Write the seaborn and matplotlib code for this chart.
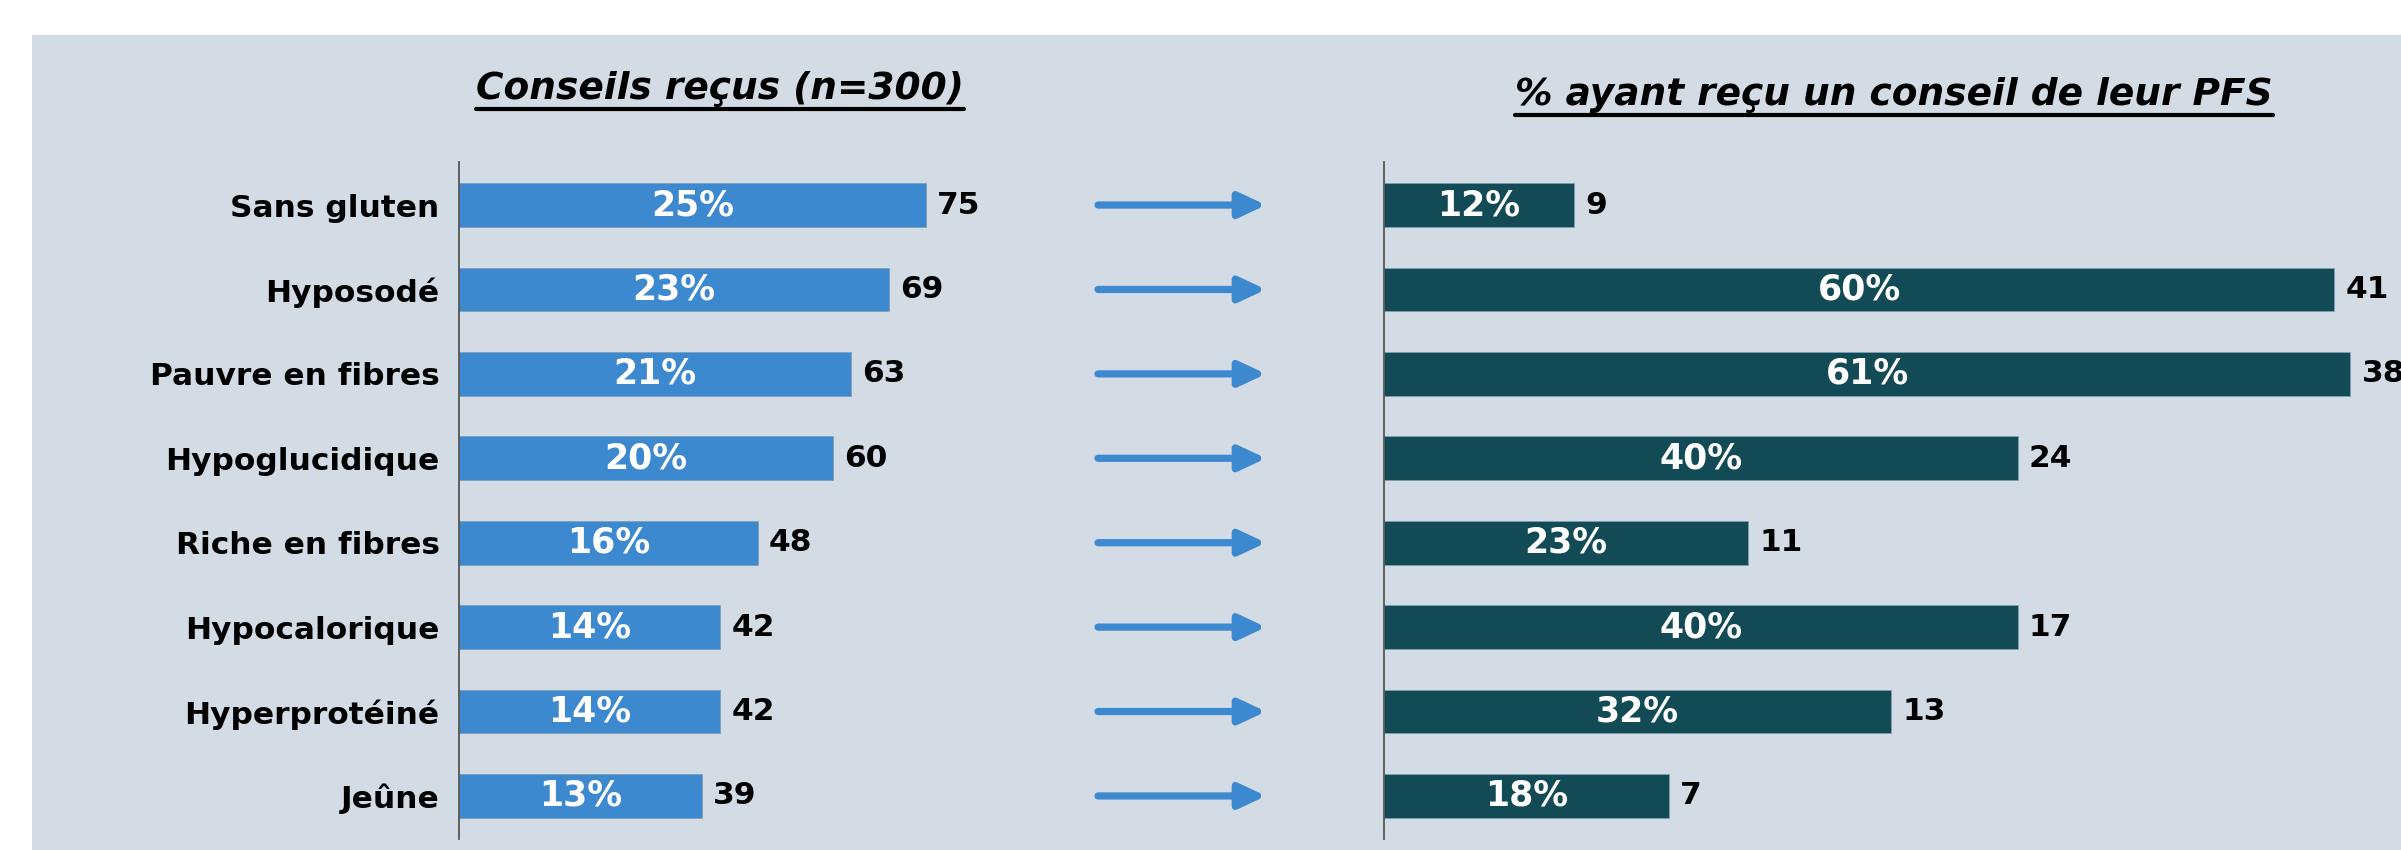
import pandas as pd
import seaborn as sns
import matplotlib.pyplot as plt
from matplotlib.patches import Rectangle
from matplotlib.lines import Line2D

categories = ['Sans gluten', 'Hyposodé', 'Pauvre en fibres', 'Hypoglucidique',
              'Riche en fibres', 'Hypocalorique', 'Hyperprotéiné', 'Jeûne']
n_total = 300
counts = [75, 69, 63, 60, 48, 42, 42, 39]
pct_received = [25, 23, 21, 20, 16, 14, 14, 13]
pfs_counts = [9, 41, 38, 24, 11, 17, 13, 7]
pfs_pct = [12, 60, 61, 40, 23, 40, 32, 18]

left_title = 'Conseils reçus (n=300)'
right_title = '% ayant reçu un conseil de leur PFS'

blue = '#3D89D0'
teal = '#124A55'
panel = '#D3DBE4'

df = pd.DataFrame({'cat': categories, 'count': counts, 'pct': pct_received,
                   'pfs_count': pfs_counts, 'pfs_pct': pfs_pct})

sns.set_style('white')
plt.rcParams['font.family'] = ['DejaVu Sans']
plt.rcParams['text.color'] = 'black'
plt.rcParams['ytick.color'] = 'black'

W, H = 2401, 850
fig = plt.figure(figsize=(W / 100, H / 100), dpi=100)
fig.patch.set_facecolor('white')
fig.patches.append(Rectangle((32 / W, 0), 1, (H - 35) / H, transform=fig.transFigure,
                             facecolor=panel, edgecolor='none', zorder=-10))

ax1 = fig.add_axes([459 / W, 11 / H, (1000 - 459) / W, 677 / H])
ax2 = fig.add_axes([1384 / W, 11 / H, (W - 1384) / W, 677 / H])

sns.barplot(data=df, x='count', y='cat', orient='h', color=blue, width=0.52,
            saturation=1, ax=ax1)
sns.barplot(data=df, x='pfs_pct', y='cat', orient='h', color=teal, width=0.52,
            saturation=1, ax=ax2)

ax1.set_xlim(0, 86.9)
ax2.set_xlim(0, 64.2)
for ax in (ax1, ax2):
    ax.set_facecolor('none')
    ax.set_ylim(7.51, -0.51)
    ax.set_xlabel('')
    ax.set_ylabel('')
    ax.set_xticks([])
    for s in ['top', 'right', 'bottom']:
        ax.spines[s].set_visible(False)
    ax.spines['left'].set_color('#555555')
    ax.spines['left'].set_linewidth(1.3)
    for p in ax.patches:
        p.set_edgecolor('#7FA0B5')
        p.set_linewidth(0.6)

ax1.set_yticks(range(len(categories)))
ax1.set_yticklabels(categories, fontsize=22.5, fontweight='bold', color='black')
ax1.tick_params(axis='y', length=0, pad=14)
ax2.set_yticks([])

for i, row in df.iterrows():
    ax1.text(row['count'] / 2, i, f"{row['pct']}%", ha='center', va='center',
             color='white', fontsize=25, fontweight='bold')
    ax1.annotate(f"{row['count']}", (row['count'], i), xytext=(8, 0),
                 textcoords='offset points', ha='left', va='center',
                 fontsize=22.5, fontweight='bold', color='black')
    ax2.text(row['pfs_pct'] / 2, i, f"{row['pfs_pct']}%", ha='center', va='center',
             color='white', fontsize=25, fontweight='bold')
    ax2.annotate(f"{row['pfs_count']}", (row['pfs_pct'], i), xytext=(8, 0),
                 textcoords='offset points', ha='left', va='center',
                 fontsize=22.5, fontweight='bold', color='black',
                 annotation_clip=False)
    # arrow between panels
    ax1.annotate('', xy=(1266, i), xytext=(1098, i),
                 xycoords=('figure pixels', 'data'),
                 textcoords=('figure pixels', 'data'),
                 arrowprops=dict(arrowstyle='-|>,head_length=1.6,head_width=0.75',
                                 mutation_scale=10, lw=5.2, color=blue,
                                 shrinkA=0, shrinkB=0),
                 annotation_clip=False)

t1 = fig.text(720 / W, 1 - 89 / H, left_title, ha='center', va='center',
              fontsize=27, fontweight='bold', fontstyle='italic', color='black')
t2 = fig.text(1894 / W, 1 - 95 / H, right_title, ha='center', va='center',
              fontsize=27, fontweight='bold', fontstyle='italic', color='black')

fig.canvas.draw()
r = fig.canvas.get_renderer()
for t in (t1, t2):
    bb = t.get_window_extent(r)
    y = (bb.y0 - 2) / H
    fig.add_artist(Line2D([bb.x0 / W, bb.x1 / W], [y, y], color='black',
                          lw=3, transform=fig.transFigure))

fig.savefig('out.png', dpi=100, facecolor='white')
